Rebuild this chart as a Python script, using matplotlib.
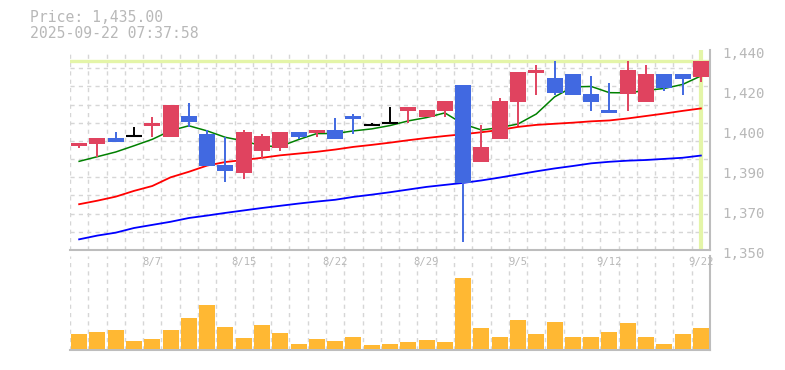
import matplotlib
matplotlib.use("Agg")
import matplotlib.pyplot as plt
from matplotlib.transforms import ScaledTranslation
import numpy as np

# ---------------- data ----------------
dates = ["8/1", "8/4", "8/5", "8/6", "8/7", "8/8", "8/12", "8/13", "8/14", "8/15",
         "8/18", "8/19", "8/20", "8/21", "8/22", "8/25", "8/26", "8/27", "8/28", "8/29",
         "9/1", "9/2", "9/3", "9/4", "9/5", "9/8", "9/9", "9/10", "9/11", "9/12",
         "9/16", "9/17", "9/18", "9/19", "9/22"]
opens = [1396.9, 1397.8, 1400.4, 1401.2, 1405.9, 1401.0, 1410.3, 1402.2, 1388.3, 1384.7,
         1394.7, 1396.0, 1403.1, 1402.7, 1404.0, 1410.4, 1406.3, 1407.2, 1412.7, 1410.0,
         1412.6, 1424.3, 1389.8, 1400.0, 1416.8, 1429.7, 1427.4, 1429.2, 1420.2, 1413.0,
         1420.2, 1416.6, 1429.2, 1429.2, 1427.9]
highs = [1398.3, 1400.4, 1403.1, 1405.4, 1409.9, 1415.3, 1416.2, 1404.0, 1400.7, 1404.0,
         1402.2, 1403.1, 1403.1, 1404.0, 1409.4, 1411.2, 1407.2, 1414.4, 1414.2, 1413.0,
         1417.1, 1424.3, 1406.1, 1418.3, 1430.1, 1433.3, 1435.1, 1429.2, 1428.3, 1425.2,
         1435.1, 1433.3, 1429.2, 1429.2, 1435.0]
lows = [1396.0, 1392.0, 1398.7, 1401.2, 1401.0, 1401.0, 1405.5, 1387.9, 1380.7, 1382.1,
        1391.0, 1394.7, 1400.0, 1401.0, 1400.0, 1402.1, 1406.3, 1407.2, 1407.2, 1409.7,
        1410.0, 1353.8, 1389.8, 1400.0, 1405.8, 1419.8, 1419.8, 1419.9, 1412.6, 1411.7,
        1412.6, 1416.6, 1421.6, 1419.8, 1425.6]
closes = [1398.3, 1400.4, 1398.7, 1401.2, 1407.2, 1415.3, 1407.7, 1387.9, 1385.7, 1403.1,
          1401.3, 1403.1, 1401.0, 1404.0, 1400.0, 1409.1, 1406.3, 1407.2, 1414.2, 1413.0,
          1417.1, 1380.0, 1396.4, 1417.1, 1430.1, 1431.0, 1420.7, 1419.9, 1416.6, 1411.7,
          1431.0, 1429.2, 1422.9, 1427.0, 1435.0]
ma5 = [1389.9, 1392.0, 1394.1, 1396.9, 1399.8, 1403.7, 1405.9, 1403.6, 1400.7, 1399.1,
       1396.8, 1396.6, 1399.7, 1402.4, 1402.4, 1403.6, 1404.5, 1406.0, 1408.1, 1409.6,
       1411.7, 1406.7, 1404.0, 1405.1, 1406.7, 1411.2, 1418.9, 1423.4, 1423.6, 1420.8,
       1420.7, 1421.8, 1422.7, 1424.5, 1428.3]
ma25 = [1370.6, 1372.2, 1374.0, 1376.6, 1378.8, 1382.7, 1385.2, 1388.0, 1389.6, 1390.5,
        1391.5, 1392.6, 1393.4, 1394.2, 1395.2, 1396.4, 1397.3, 1398.3, 1399.4, 1400.4,
        1401.3, 1402.1, 1403.0, 1404.0, 1405.4, 1406.3, 1406.8, 1407.3, 1407.9, 1408.3,
        1409.2, 1410.3, 1411.4, 1412.6, 1413.7]
ma75 = [1354.8, 1356.5, 1357.8, 1359.9, 1361.3, 1362.7, 1364.4, 1365.5, 1366.7, 1367.8,
        1368.9, 1369.9, 1370.9, 1371.8, 1372.6, 1373.9, 1374.9, 1376.0, 1377.2, 1378.4,
        1379.3, 1380.2, 1381.3, 1382.6, 1384.0, 1385.4, 1386.7, 1387.8, 1389.0, 1389.7,
        1390.2, 1390.5, 1391.0, 1391.5, 1392.5]
volumes = [15, 17, 19, 8, 10, 19, 31, 44, 22, 11,
           24, 16, 5, 10, 8, 12, 4, 5, 7, 9,
           7, 71, 21, 12, 29, 15, 27, 12, 12, 17,
           26, 12, 5, 15, 21]
xlabel_dates = ["8/7", "8/15", "8/22", "8/29", "9/5", "9/12", "9/22"]
ytick_values = [1350, 1368, 1386, 1404, 1422, 1440]
ytick_labels = ["1,350", "1,370", "1,390", "1,400", "1,420", "1,440"]
title_price = "Price: 1,435.00"
title_time = "2025-09-22 07:37:58"
last_price = 1435.0

# ---------------- style ----------------
UP = "#e0435f"
DOWN = "#4169e1"
DOJI = "#000000"
GRID = "#d6d6d6"
SPINE = "#bdbdbd"
TXT = "#b8b8b8"
HL = "#e4f5a8"
VOL = "#ffb833"
MONO = "DejaVu Sans Mono"

W, H = 785, 370
fig = plt.figure(figsize=(W / 100, H / 100), dpi=100)
axv = fig.add_axes([70 / W, 1 - 350 / H, 640 / W, 94 / H])
ax = fig.add_axes([70 / W, 1 - 250 / H, 640 / W, 200 / H])
axv.patch.set_visible(False)

n = len(dates)
x = np.arange(n)
bw = 0.87

for a in (ax, axv):
    a.set_xlim(-0.5, n - 0.5)
    a.set_xticks(np.arange(-0.5, n, 1.0), minor=True)
    a.grid(which="minor", axis="x", color=GRID, linestyle=(0, (3, 3)), linewidth=1.0)
    for s in ("top", "left"):
        a.spines[s].set_visible(False)
    for s in ("bottom", "right"):
        a.spines[s].set_color(SPINE)
        a.spines[s].set_linewidth(1.5)
    a.tick_params(which="both", length=0)
    a.set_axisbelow(True)

# price axes
ax.set_ylim(1350, 1440)
ax.set_yticks(np.linspace(1350, 1440, 12), minor=True)
ax.grid(which="minor", axis="y", color=GRID, linestyle=(0, (3, 3)), linewidth=1.0)
ax.yaxis.tick_right()
ax.set_yticks(ytick_values)
ax.set_yticklabels(ytick_labels, fontfamily=MONO, fontsize=10.2, color=TXT)
ax.tick_params(axis="y", which="major", pad=9)
for lab in ax.get_yticklabels():
    lab.set_transform(lab.get_transform() + ScaledTranslation(0, -3 / 100, fig.dpi_scale_trans))
xt = [dates.index(d) for d in xlabel_dates]
ax.set_xticks(xt)
ax.set_xticklabels(xlabel_dates, fontfamily=MONO, fontsize=7.6, color=TXT)
ax.tick_params(axis="x", which="major", pad=5)

# highlight lines
ax.axhline(last_price, color=HL, linewidth=2.4, zorder=1)
ax.axvline(n - 1, color=HL, linewidth=3.0, zorder=1)

# moving averages
ax.plot(x, ma75, color="#0000ff", linewidth=1.3, zorder=2)
ax.plot(x, ma25, color="#ff0000", linewidth=1.3, zorder=2)
ax.plot(x, ma5, color="#008000", linewidth=1.1, zorder=2)

# candles
for i in range(n):
    o, h, l, c = opens[i], highs[i], lows[i], closes[i]
    if c > o:
        col = UP
    elif c < o:
        col = DOWN
    else:
        col = DOJI
    ax.vlines(i, l, h, color=col, linewidth=1.4, zorder=3)
    if c == o:
        ax.hlines(o, i - bw / 2, i + bw / 2, color=col, linewidth=1.5, zorder=4)
    else:
        ax.bar(i, abs(c - o), bottom=min(o, c), width=bw, color=col, linewidth=0, zorder=4)

# volume
axv.bar(x, volumes, width=bw, color=VOL, linewidth=0, zorder=3)
axv.set_ylim(-1.5, 92.5)
axv.set_yticks([])
axv.set_xticks([])

# titles
fig.text(30 / W, 1 - 17.5 / H, title_price, fontfamily=MONO, fontsize=10.6, color=TXT,
         ha="left", va="center")
fig.text(30 / W, 1 - 33 / H, title_time, fontfamily=MONO, fontsize=10.6, color=TXT,
         ha="left", va="center")

fig.savefig("out.png", dpi=100, facecolor="white")
